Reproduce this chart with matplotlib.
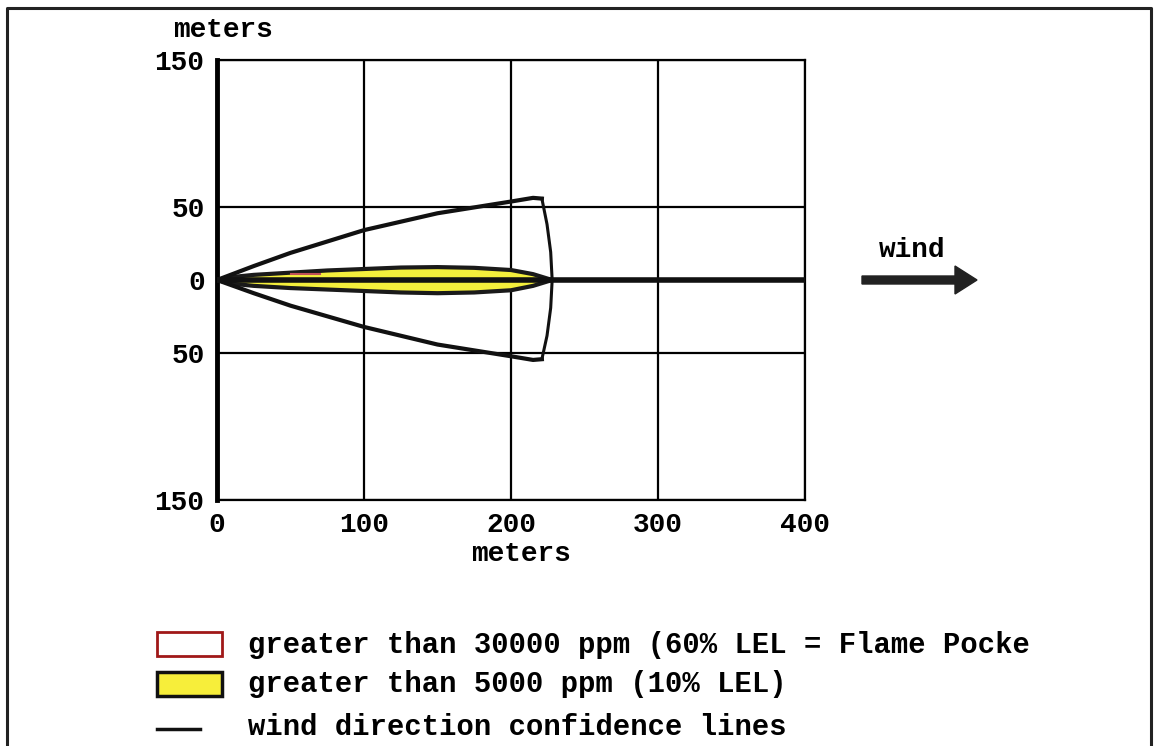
import numpy as np
import matplotlib
matplotlib.use("Agg")
import matplotlib.pyplot as plt
from matplotlib.patches import Rectangle, Polygon, FancyArrow

plt.rcParams["font.family"] = ["Liberation Mono", "DejaVu Sans Mono"]
plt.rcParams["font.weight"] = "bold"
plt.rcParams["font.size"] = 20

# threat zone data (meters downwind / crosswind)
plume_x = [0, 10, 25, 50, 75, 100, 125, 150, 175, 200, 215, 228]
plume_upper = [0, 2.0, 3.5, 5.0, 6.5, 7.5, 8.5, 8.8, 8.3, 6.8, 4.0, 0]
plume_lower = [0, -2.5, -4.0, -5.5, -6.5, -7.5, -8.5, -9.0, -8.5, -7.0, -4.0, 0]

pocket_x = [50, 70]
pocket_y = [4, 4]

conf_x = [0, 25, 50, 100, 150, 200, 215, 221]
conf_upper = [0, 9.5, 18.5, 34, 45.5, 53.5, 56, 55.5]
conf_lower = [0, -9.0, -17.5, -32, -44, -52, -54.5, -54]

arc_x = [221, 224.5, 227, 228, 227, 224.5, 221]
arc_y = [55.5, 38, 19, 0, -19, -38, -54]

x_ticks = [0, 100, 200, 300, 400]
y_ticks = [150, 50, 0, -50, -150]
y_tick_labels = ["150", "50", "0", "50", "150"]

legend_labels = [
    "greater than 30000 ppm (60% LEL = Flame Pocke",
    "greater than 5000 ppm (10% LEL)",
    "wind direction confidence lines",
]

W, H = 1155, 746
fig = plt.figure(figsize=(W / 100, H / 100), dpi=100)
fig.patch.set_facecolor("white")

ax = fig.add_axes([217 / W, 1 - 500 / H, 588 / W, 440 / H])
ax.set_xlim(0, 400)
ax.set_ylim(-150, 150)
ax.set_xticks(x_ticks)
ax.set_yticks(y_ticks, labels=y_tick_labels)
ax.tick_params(length=0, pad=9, labelsize=20)
ax.grid(True, color="black", linewidth=1.6)
ax.set_axisbelow(True)
for side in ["top", "right", "bottom"]:
    ax.spines[side].set_linewidth(1.6)
ax.spines["left"].set_linewidth(3.5)

# yellow zone
poly_pts = list(zip(plume_x, plume_upper)) + list(zip(plume_x[::-1], plume_lower[::-1]))
ax.add_patch(Polygon(poly_pts, closed=True, facecolor="#f4ef3c",
                     edgecolor="#1a1a1a", linewidth=3, zorder=3))
ax.plot(pocket_x, pocket_y, color="#c0505a", linewidth=1.5, zorder=5)

# centerline
ax.plot([0, 400], [0, 0], color="#111111", linewidth=4, zorder=4)

# confidence lines
ax.plot(conf_x, conf_upper, color="#111111", linewidth=3, zorder=4)
ax.plot(conf_x, conf_lower, color="#111111", linewidth=3, zorder=4)
ax.plot(arc_x, arc_y, color="#111111", linewidth=2.2, zorder=4)

# overlay in pixel coords for frame, labels, arrow, legend
ov = fig.add_axes([0, 0, 1, 1])
ov.set_xlim(0, W)
ov.set_ylim(H, 0)
ov.axis("off")
ov.patch.set_alpha(0)

ov.plot([7, 7, 1151, 1151], [H, 8, 8, H], color="#222222", linewidth=2.2)

ov.text(223, 30, "meters", ha="center", va="center")
ov.text(521, 554, "meters", ha="center", va="center")

ov.text(912, 250, "wind", ha="center", va="center")
ov.add_patch(FancyArrow(862, 280, 115, 0, width=8, head_width=28, head_length=22,
                        length_includes_head=True, color="#222222"))

# legend
ov.add_patch(Rectangle((157, 632), 65, 24, facecolor="white",
                       edgecolor="#a01818", linewidth=2))
ov.add_patch(Rectangle((157, 672), 65, 24, facecolor="#f7ee3a",
                       edgecolor="#111111", linewidth=2.5))
ov.plot([157, 200], [729, 729], color="#111111", linewidth=2.5)
for y, lab in zip([645, 684, 727], legend_labels):
    ov.text(248, y, lab, ha="left", va="center", fontsize=20.8)

fig.savefig("out.png", dpi=100)
